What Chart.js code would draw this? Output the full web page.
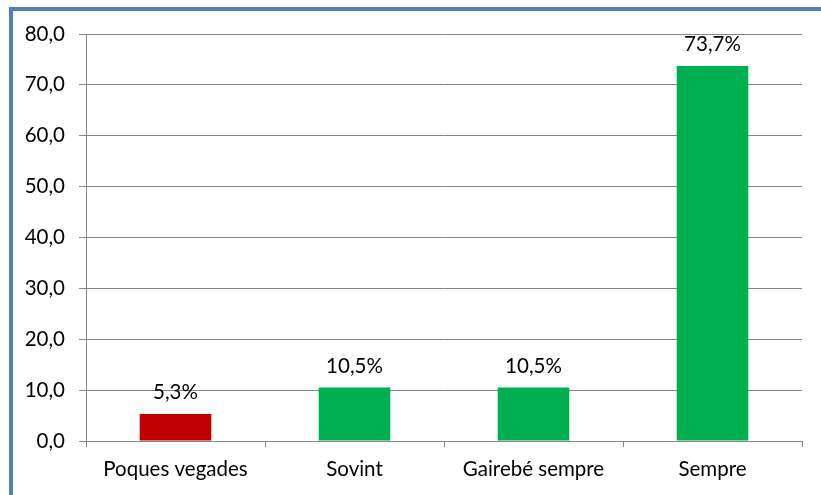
<!DOCTYPE html>
<html>
<head>
<meta charset="utf-8">
<script src="https://cdn.jsdelivr.net/npm/chart.js@4.4.1/dist/chart.umd.min.js"></script>
<style>
  html, body { margin: 0; padding: 0; background: #fff; }
  #wrap { position: relative; width: 821px; height: 495px; overflow: hidden; }
  #marco {
    position: absolute; left: 9px; top: 7px; width: 900px; height: 600px;
    border-top: 4px solid #4f81bd; border-left: 4px solid #4f81bd;
  }
  #grafic { position: absolute; left: 0; top: 0; }
</style>
</head>
<body>
<div id="wrap">
  <div id="marco"></div>
  <canvas id="grafic" width="821" height="495"></canvas>
</div>
<script>
// dades del gràfic
const categories = ['Poques vegades', 'Sovint', 'Gairebé sempre', 'Sempre'];
const percentatges = [5.3, 10.5, 10.5, 73.7];
const colors = ['#c00000', '#00b050', '#00b050', '#00b050'];
const ticksY = [0, 10, 20, 30, 40, 50, 60, 70, 80];

const FONT = 'Lato, "Open Sans", sans-serif';
const MIDA = 20.5;

function formatComa(v, dec) {
    return Number(v).toFixed(dec).replace('.', ',');
}

// etiquetes de valor damunt de cada barra
const etiquetesBarres = {
    id: 'etiquetesBarres',
    afterDatasetsDraw(chart) {
        const ctx = chart.ctx;
        const meta = chart.getDatasetMeta(0);
        ctx.save();
        ctx.font = MIDA + 'px ' + FONT;
        ctx.fillStyle = '#000';
        ctx.textAlign = 'center';
        ctx.textBaseline = 'alphabetic';
        meta.data.forEach(function(bar, i) {
            ctx.fillText(formatComa(percentatges[i], 1) + '%', bar.x, bar.y - 15);
        });
        ctx.restore();
    }
};

new Chart(document.getElementById('grafic'), {
    type: 'bar',
    data: {
        labels: categories,
        datasets: [{
            data: percentatges,
            backgroundColor: colors,
            borderWidth: 0,
            barPercentage: 0.4,
            categoryPercentage: 1.0
        }]
    },
    options: {
        responsive: false,
        animation: false,
        devicePixelRatio: 1,
        layout: { padding: { top: 34, right: 19, bottom: 0, left: 0 } },
        plugins: {
            legend: { display: false },
            tooltip: { enabled: false }
        },
        scales: {
            x: {
                grid: {
                    offset: true,
                    drawOnChartArea: false,
                    drawTicks: true,
                    tickLength: 6,
                    color: '#868686'
                },
                border: { color: '#868686', width: 1 },
                ticks: { color: '#000', font: { family: FONT, size: MIDA }, padding: 10 },
                afterFit: function(scale) { scale.height = 54; }
            },
            y: {
                min: 0,
                max: 80,
                afterBuildTicks: function(scale) {
                    scale.ticks = ticksY.map(v => ({ value: v }));
                },
                grid: { color: '#868686', tickLength: 7 },
                border: { color: '#868686', width: 1 },
                ticks: {
                    color: '#000',
                    font: { family: FONT, size: MIDA },
                    padding: 14,
                    callback: v => formatComa(v, 1)
                },
                afterFit: function(scale) { scale.width = 86; }
            }
        }
    },
    plugins: [etiquetesBarres]
});
</script>
</body>
</html>
